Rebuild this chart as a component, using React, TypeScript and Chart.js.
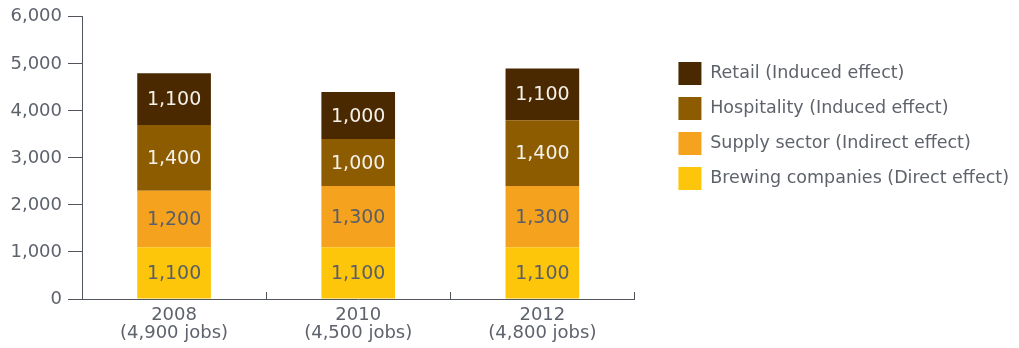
import React, { useEffect, useRef } from "react";
import { Chart, registerables } from "chart.js";

Chart.register(...registerables);

const years = ["2008", "2010", "2012"];
const jobTotals = ["(4,900 jobs)", "(4,500 jobs)", "(4,800 jobs)"];
const brewing = [1100, 1100, 1100];
const supply = [1200, 1300, 1300];
const hospitality = [1400, 1000, 1400];
const retail = [1100, 1000, 1100];
const yTicks = [0, 1000, 2000, 3000, 4000, 5000, 6000];

const FONT = "'DejaVu Sans', sans-serif";
const TEXT = "#5e626b";
const AXIS = "#50545c";

const barLabels = {
  id: "barLabels",
  afterDatasetsDraw(chart: any) {
    const ctx = chart.ctx;
    ctx.save();
    ctx.font = `19px ${FONT}`;
    ctx.textAlign = "center";
    ctx.textBaseline = "middle";
    chart.data.datasets.forEach((ds: any, di: number) => {
      const meta = chart.getDatasetMeta(di);
      if (meta.hidden) return;
      meta.data.forEach((bar: any, i: number) => {
        const v = ds.data[i];
        ctx.fillStyle = ds.labelColor;
        ctx.fillText(v.toLocaleString("en-US"), bar.x, (bar.y + bar.base) / 2 + 1);
      });
    });
    ctx.restore();
  },
};

const xTickMarks = {
  id: "xTickMarks",
  afterDraw(chart: any) {
    const x = chart.scales.x;
    const ctx = chart.ctx;
    const bottom = chart.chartArea.bottom;
    ctx.save();
    ctx.strokeStyle = AXIS;
    ctx.lineWidth = 1;
    const n = chart.data.labels.length;
    for (let i = 0; i < n; i++) {
      const px =
        i < n - 1
          ? (x.getPixelForValue(i) + x.getPixelForValue(i + 1)) / 2
          : chart.chartArea.right;
      const xx = Math.round(px) + 0.5;
      ctx.beginPath();
      ctx.moveTo(xx, bottom);
      ctx.lineTo(xx, bottom - 7);
      ctx.stroke();
    }
    ctx.restore();
  },
};

export default function App() {
  const ref = useRef<HTMLCanvasElement>(null);
  useEffect(() => {
    if (!ref.current) return;
    const chart = new Chart(ref.current, {
      type: "bar",
      data: {
        labels: years.map((y, i) => [y, jobTotals[i]]),
        datasets: [
          { label: "Brewing companies (Direct effect)", data: brewing, backgroundColor: "#fec60b", labelColor: "#5a5e68" } as any,
          { label: "Supply sector (Indirect effect)", data: supply, backgroundColor: "#f5a31f", labelColor: "#5a5e68" } as any,
          { label: "Hospitality (Induced effect)", data: hospitality, backgroundColor: "#8d5c00", labelColor: "#f4f1ea" } as any,
          { label: "Retail (Induced effect)", data: retail, backgroundColor: "#4a2901", labelColor: "#f4f1ea" } as any,
        ],
      },
      options: {
        animation: false,
        responsive: false,
        maintainAspectRatio: false,
        layout: { padding: { top: 12, left: 0, right: 0, bottom: 0 } },
        datasets: { bar: { barPercentage: 0.4, categoryPercentage: 1 } },
        plugins: {
          tooltip: { enabled: false },
          legend: {
            position: "right",
            align: "start",
            reverse: true,
            maxWidth: 420,
            title: { display: true, text: "", font: { size: 10, lineHeight: 1 }, padding: { top: 28, bottom: 0 } },
            labels: {
              boxWidth: 23,
              boxHeight: 23,
              padding: 12,
              color: TEXT,
              font: { family: FONT, size: 17.5 },
            },
          },
        },
        scales: {
          x: {
            stacked: true,
            offset: true,
            grid: { display: false, drawTicks: false, tickLength: 0 },
            border: { display: true, color: AXIS, width: 1 },
            ticks: {
              padding: 7,
              color: TEXT,
              font: { family: FONT, size: 18, lineHeight: 1.03 },
            },
            afterFit: (s: any) => {
              s.height = 49;
            },
          },
          y: {
            stacked: true,
            min: 0,
            max: 6000,
            afterBuildTicks: (s: any) => {
              s.ticks = yTicks.map((v) => ({ value: v }));
            },
            grid: { drawOnChartArea: false, drawTicks: true, tickLength: 14, color: AXIS },
            border: { display: true, color: AXIS, width: 1 },
            ticks: {
              padding: 6,
              color: TEXT,
              font: { family: FONT, size: 18 },
              callback: (v: any) => Number(v).toLocaleString("en-US"),
            },
            afterFit: (s: any) => {
              s.width = 82;
            },
          },
          spacer: {
            type: "linear",
            position: "right",
            display: true,
            grid: { display: false, drawTicks: false },
            border: { display: false },
            ticks: { display: false },
            afterFit: (s: any) => {
              s.width = 32;
            },
          },
        },
      },
      plugins: [barLabels, xTickMarks],
    } as any);
    return () => chart.destroy();
  }, []);
  return (
    <div style={{ position: "fixed", left: 0, top: 0, width: 1019, height: 348 }}>
      <canvas ref={ref} width={1019} height={348} style={{ width: 1019, height: 348 }} />
    </div>
  );
}
